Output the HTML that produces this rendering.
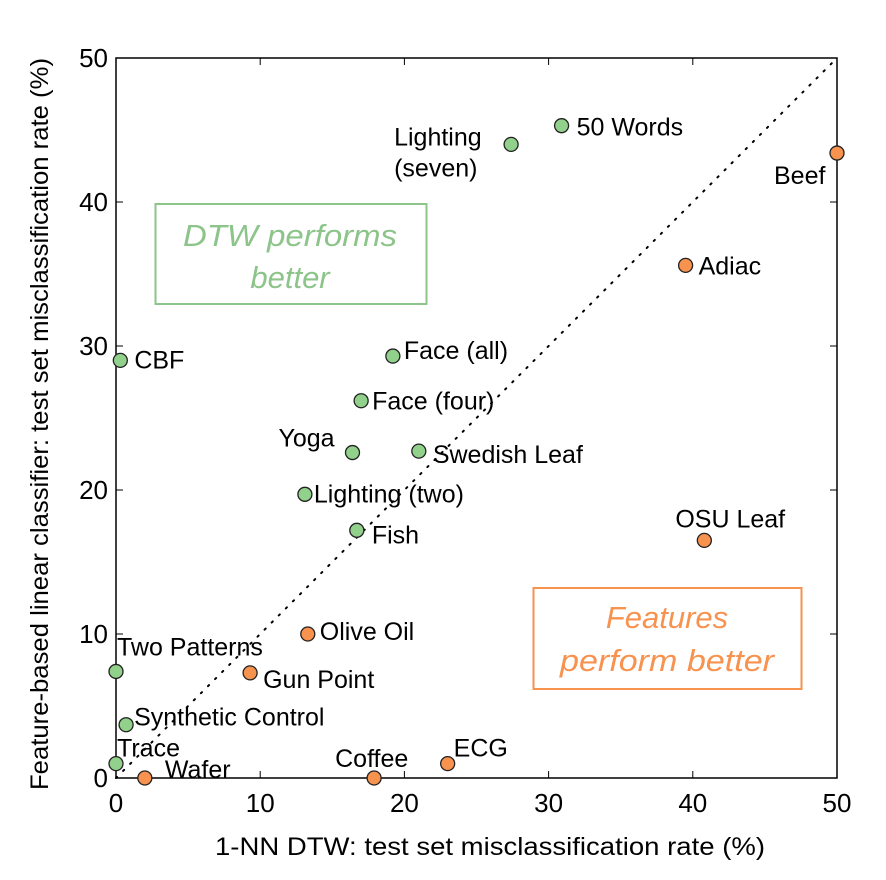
<!DOCTYPE html>
<html><head><meta charset="utf-8"><style>
html,body{margin:0;padding:0;background:#fff;}
svg{display:block;font-family:"Liberation Sans",Arial,sans-serif;}
</style></head><body>
<svg id="chart" width="886" height="880" viewBox="0 0 886 880" xmlns="http://www.w3.org/2000/svg">
<g id="axes"></g>
<g id="marks"></g>
<rect x="155.5" y="204" width="271" height="100" fill="none" stroke="#8cc48a" stroke-width="2"/>
<text x="290" y="246" text-anchor="middle" font-size="31" font-style="italic" fill="#8cc48a" textLength="214" lengthAdjust="spacingAndGlyphs">DTW performs</text>
<text x="290" y="288" text-anchor="middle" font-size="31" font-style="italic" fill="#8cc48a">better</text>
<rect x="533.5" y="588" width="268" height="101" fill="none" stroke="#f7924f" stroke-width="2"/>
<text x="667" y="628" text-anchor="middle" font-size="31" font-style="italic" fill="#f7924f">Features</text>
<text x="667" y="671" text-anchor="middle" font-size="31" font-style="italic" fill="#f7924f" textLength="214" lengthAdjust="spacingAndGlyphs">perform better</text>
<text x="490" y="855" text-anchor="middle" font-size="25" textLength="550" lengthAdjust="spacingAndGlyphs">1-NN DTW: test set misclassification rate (%)</text>
<text transform="translate(48,424) rotate(-90)" text-anchor="middle" font-size="25" textLength="732" lengthAdjust="spacingAndGlyphs">Feature-based linear classifier: test set misclassification rate (%)</text>
</svg>
<script>
const names=["50 Words","Lighting (seven)","Beef","Adiac","CBF","Face (all)","Face (four)","Yoga","Swedish Leaf","Lighting (two)","Fish","OSU Leaf","Olive Oil","Two Patterns","Gun Point","Synthetic Control","Trace","Wafer","Coffee","ECG"];
const dtwErr=[30.9,27.4,50,39.5,0.3,19.2,17.0,16.4,21.0,13.1,16.7,40.8,13.3,0,9.3,0.7,0,2.0,17.9,23.0];
const featErr=[45.3,44.0,43.4,35.6,29.0,29.3,26.2,22.6,22.7,19.7,17.2,16.5,10.0,7.4,7.3,3.7,1.0,0,0,1.0];
const xTicks=[0,10,20,30,40,50];
const yTicks=[0,10,20,30,40,50];
// label offsets (layout, not data)
const lab={"50 Words":[15,10],"Lighting (seven)":[-117,1],"Beef":[-63,31],"Adiac":[13,9],"CBF":[14,8],"Face (all)":[11,3],"Face (four)":[11,9],"Yoga":[-74,-6],"Swedish Leaf":[14,12],"Lighting (two)":[9,8],"Fish":[15,13],"OSU Leaf":[-29,-13],"Olive Oil":[12,6],"Two Patterns":[1,-16],"Gun Point":[13,15],"Synthetic Control":[8,1],"Trace":[1,-7],"Wafer":[20,0],"Coffee":[-39,-11],"ECG":[6,-7]};
const L=116,R=837,T=58,B=778;
const sx=v=>L+(v-0)/(50-0)*(R-L);
const sy=v=>B-(v-0)/(50-0)*(B-T);
const NS="http://www.w3.org/2000/svg";
function mk(tag,attrs,parent,text){const e=document.createElementNS(NS,tag);for(const k in attrs)e.setAttribute(k,attrs[k]);if(text!==undefined)e.textContent=text;parent.appendChild(e);return e;}
const ax=document.getElementById('axes');
let d=mk('line',{x1:sx(0),y1:sy(0),x2:sx(50),y2:sy(50),stroke:'#000','stroke-width':2,'stroke-dasharray':'1.5 8.5','stroke-linecap':'round'},ax);


let fr=mk('rect',{x:L,y:T,width:R-L,height:B-T,fill:'none',stroke:'#000','stroke-width':1.5},ax);


xTicks.forEach(v=>{
  mk('line',{x1:sx(v),x2:sx(v),y1:B,y2:B-7,stroke:'#000','stroke-width':1},ax);
  mk('line',{x1:sx(v),x2:sx(v),y1:T,y2:T+7,stroke:'#000','stroke-width':1},ax);
  const t=mk('text',{x:sx(v),y:812,'text-anchor':'middle','font-size':26},ax,String(v));
  
  
});
yTicks.forEach(v=>{
  mk('line',{x1:L,x2:L+7,y1:sy(v),y2:sy(v),stroke:'#000','stroke-width':1},ax);
  mk('line',{x1:R,x2:R-7,y1:sy(v),y2:sy(v),stroke:'#000','stroke-width':1},ax);
  const t=mk('text',{x:108,y:sy(v)+9,'text-anchor':'end','font-size':26},ax,String(v));
  
  
});
const mg=document.getElementById('marks');
names.forEach((n,i)=>{
  const cx=sx(dtwErr[i]),cy=sy(featErr[i]);
  const better=featErr[i]<dtwErr[i];
  const c=mk('circle',{cx:cx,cy:cy,r:7,fill:better?'#f7924f':'#92d18b',stroke:'#222','stroke-width':1.3},mg);
  
  
  const o=lab[n]||[10,7];
  if(n==="Lighting (seven)"){
    const t1=mk('text',{x:cx+o[0],y:cy+o[1],'font-size':25},mg,'Lighting');
    
    
    const t2=mk('text',{x:cx+o[0],y:cy+o[1]+31,'font-size':25},mg,'(seven)');
    
    
  } else {
    const t=mk('text',{x:cx+o[0],y:cy+o[1],'font-size':25},mg,n);
    
    
  }
});
</script>
</body></html>
